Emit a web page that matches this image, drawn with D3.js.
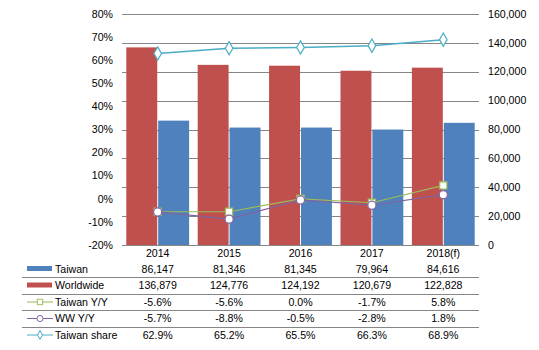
<!DOCTYPE html>
<html lang="en">
  <head>
    <meta charset="utf-8">
    <title>Taiwan vs Worldwide</title>
    <style>
    body {margin: 0; background: #fff;}
    text {font-family: "Liberation Sans", Arial, sans-serif; font-size: 10.6px; fill: #000;}
    </style>
  </head>
  <body>
    <div id="chart"></div>

    <script src="https://d3js.org/d3.v7.min.js"></script>
    <script>
      // data
      var years = ["2014", "2015", "2016", "2017", "2018(f)"];
      var taiwan = [86147, 81346, 81345, 79964, 84616];
      var worldwide = [136879, 124776, 124192, 120679, 122828];
      var taiwanYY = [-5.6, -5.6, 0.0, -1.7, 5.8];
      var wwYY = [-5.7, -8.8, -0.5, -2.8, 1.8];
      var taiwanShare = [62.9, 65.2, 65.5, 66.3, 68.9];
      var pctTicks = [-20, -10, 0, 10, 20, 30, 40, 50, 60, 70, 80];
      var valTicks = [0, 20000, 40000, 60000, 80000, 100000, 120000, 140000, 160000];

      var colors = {tw: "#4F81BD", ww: "#C0504D", twYY: "#9BBB59", wwYY: "#8064A2", share: "#4BACC6"};

      var width = 539, height = 350;
      var plot = {left: 122, right: 479, top: 14, bottom: 245};

      var svg = d3.select("#chart").append("svg")
        .attr("width", width)
        .attr("height", height);

      var x = d3.scaleBand().domain(years).range([plot.left, plot.right])
        .paddingInner(0.12).paddingOuter(0.06);
      var xs = d3.scaleBand().domain(["ww", "tw"]).range([0, x.bandwidth()]).paddingInner(0.03);
      var cx = function(i) { return x(years[i]) + x.bandwidth() / 2; };

      var yL = d3.scaleLinear().domain([-20, 80]).range([plot.bottom, plot.top]);
      var yR = d3.scaleLinear().domain([0, 160000]).range([plot.bottom, plot.top]);

      // gridlines (on the right axis)
      svg.append("g").selectAll("line").data(valTicks).enter().append("line")
        .attr("x1", plot.left).attr("x2", plot.right)
        .attr("y1", function(d) { return Math.round(yR(d)) + 0.5; })
        .attr("y2", function(d) { return Math.round(yR(d)) + 0.5; })
        .attr("stroke", "#868686").attr("stroke-width", 1);

      // left axis labels
      svg.append("g").selectAll("text").data(pctTicks).enter().append("text")
        .attr("x", 113).attr("y", function(d) { return yL(d); })
        .attr("dy", "0.35em").attr("text-anchor", "end")
        .text(function(d) { return d + "%"; });

      // right axis labels
      svg.append("g").selectAll("text").data(valTicks).enter().append("text")
        .attr("x", 488).attr("y", function(d) { return yR(d); })
        .attr("dy", "0.35em").attr("text-anchor", "start")
        .text(function(d) { return d3.format(",")(d); });

      // bars
      var bars = svg.append("g");
      bars.selectAll(".ww").data(worldwide).enter().append("rect")
        .attr("x", function(d, i) { return x(years[i]) + xs("ww"); })
        .attr("width", xs.bandwidth())
        .attr("y", function(d) { return yR(d); })
        .attr("height", function(d) { return yR(0) - yR(d); })
        .attr("fill", colors.ww);
      bars.selectAll(".tw").data(taiwan).enter().append("rect")
        .attr("x", function(d, i) { return x(years[i]) + xs("tw"); })
        .attr("width", xs.bandwidth())
        .attr("y", function(d) { return yR(d); })
        .attr("height", function(d) { return yR(0) - yR(d); })
        .attr("fill", colors.tw);

      // lines with markers
      function series(data, color, shape, sw) {
        var g = svg.append("g");
        g.append("path").datum(data)
          .attr("fill", "none").attr("stroke", color).attr("stroke-width", sw)
          .attr("d", d3.line().x(function(d, i) { return cx(i); }).y(function(d) { return yL(d); }));
        g.selectAll("path.m").data(data).enter().append("path")
          .attr("class", "m")
          .attr("transform", function(d, i) { return "translate(" + cx(i) + "," + yL(d) + ")"; })
          .attr("d", d3.symbol().type(shape).size(shape === d3.symbolDiamond ? 50 : 52))
          .attr("fill", "#fff").attr("stroke", color).attr("stroke-width", 1.2);
      }
      series(taiwanShare, colors.share, d3.symbolDiamond, 1.5);
      series(taiwanYY, colors.twYY, d3.symbolSquare, 1.2);
      series(wwYY, colors.wwYY, d3.symbolCircle, 1.2);

      // category labels
      svg.append("g").selectAll("text").data(years).enter().append("text")
        .attr("x", function(d, i) { return cx(i); }).attr("y", 253)
        .attr("dy", "0.35em")
        .attr("text-anchor", "middle")
        .text(function(d) { return d; });

      // data table
      var rows = [
        {name: "Taiwan", vals: taiwan.map(d3.format(",")), type: "bar", color: colors.tw},
        {name: "Worldwide", vals: worldwide.map(d3.format(",")), type: "bar", color: colors.ww},
        {name: "Taiwan Y/Y", vals: taiwanYY.map(function(d) { return d.toFixed(1) + "%"; }), type: d3.symbolSquare, color: colors.twYY},
        {name: "WW Y/Y", vals: wwYY.map(function(d) { return d.toFixed(1) + "%"; }), type: d3.symbolCircle, color: colors.wwYY},
        {name: "Taiwan share", vals: taiwanShare.map(function(d) { return d.toFixed(1) + "%"; }), type: d3.symbolDiamond, color: colors.share}
      ];
      var rowY = function(i) { return 269 + i * 16.5; };

      var table = svg.append("g");
      rows.forEach(function(r, i) {
        var yy = rowY(i);
        if (i < rows.length - 1) {
          table.append("line")
            .attr("x1", 22).attr("x2", plot.right)
            .attr("y1", Math.round(yy + 8) + 0.5).attr("y2", Math.round(yy + 8) + 0.5)
            .attr("stroke", "#868686");
        }
        if (r.type === "bar") {
          table.append("rect").attr("x", 27).attr("y", yy - 3).attr("width", 25).attr("height", 5)
            .attr("fill", r.color);
        } else {
          table.append("line").attr("x1", 27).attr("x2", 53).attr("y1", yy).attr("y2", yy)
            .attr("stroke", r.color).attr("stroke-width", 1);
          table.append("path")
            .attr("transform", "translate(40," + yy + ")")
            .attr("d", d3.symbol().type(r.type).size(r.type === d3.symbolDiamond ? 22 : 30))
            .attr("fill", "#fff").attr("stroke", r.color).attr("stroke-width", 1);
        }
        table.append("text").attr("x", 55).attr("y", yy).attr("dy", "0.35em")
          .text(r.name);
        r.vals.forEach(function(v, j) {
          table.append("text").attr("x", cx(j)).attr("y", yy).attr("dy", "0.35em")
            .attr("text-anchor", "middle").text(v);
        });
      });
    </script>
  </body>
</html>
